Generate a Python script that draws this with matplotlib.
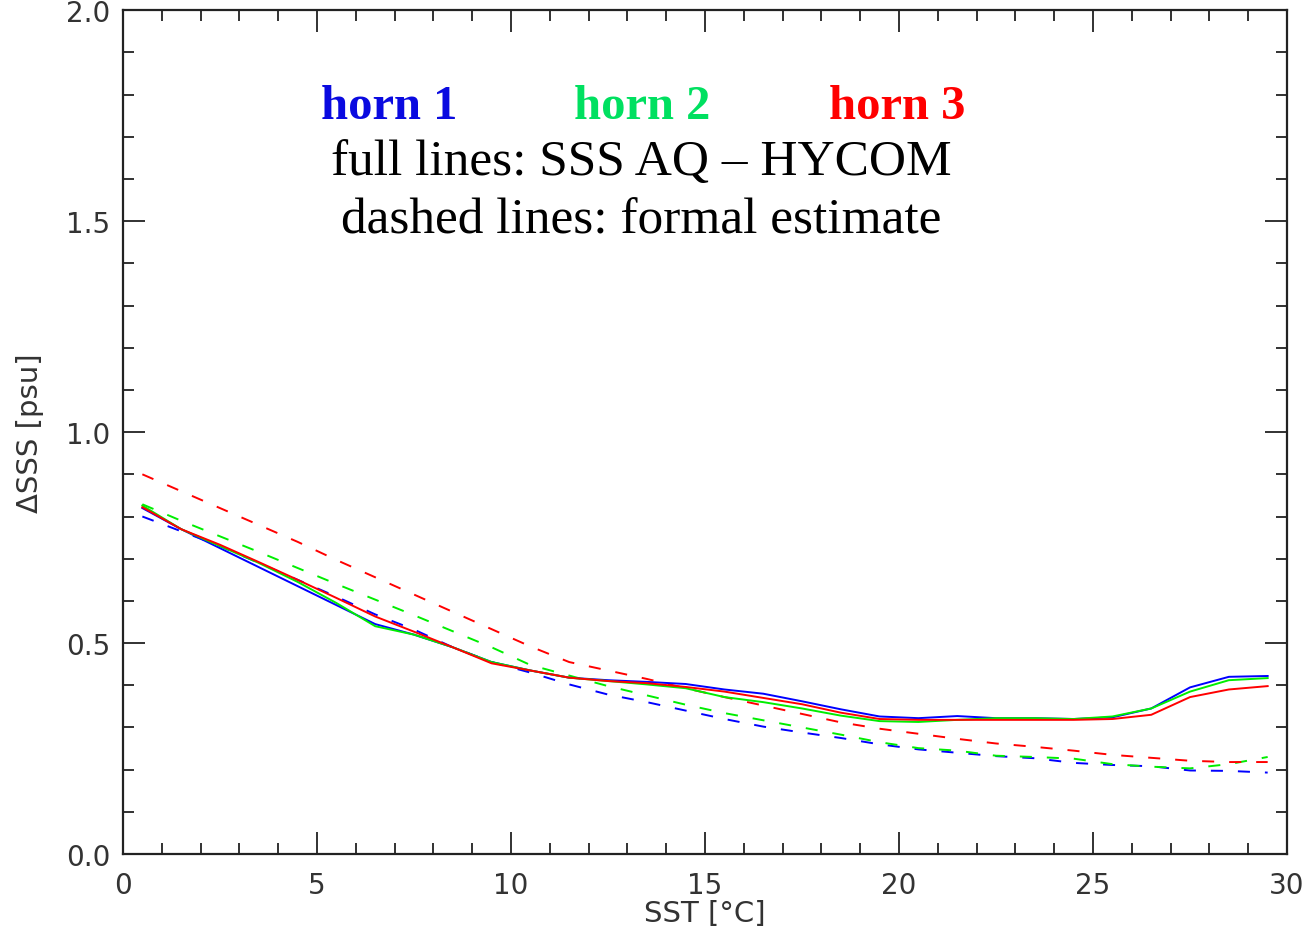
import matplotlib
matplotlib.use("Agg")
import matplotlib.pyplot as plt
from matplotlib.ticker import MultipleLocator, FormatStrFormatter

sst = [0.5, 1.5, 2.5, 3.5, 4.5, 5.5, 6.5, 7.5, 8.5, 9.5,
       10.5, 11.5, 12.5, 13.5, 14.5, 15.5, 16.5, 17.5, 18.5, 19.5,
       20.5, 21.5, 22.5, 23.5, 24.5, 25.5, 26.5, 27.5, 28.5, 29.5]

horn1_full = [0.82, 0.77, 0.725, 0.68, 0.635, 0.59, 0.545, 0.52, 0.49, 0.455,
              0.435, 0.418, 0.412, 0.408, 0.403, 0.39, 0.38, 0.362, 0.343, 0.326,
              0.322, 0.327, 0.322, 0.322, 0.32, 0.324, 0.345, 0.395, 0.42, 0.422]
horn2_full = [0.826, 0.77, 0.73, 0.69, 0.645, 0.595, 0.54, 0.52, 0.49, 0.455,
              0.435, 0.418, 0.41, 0.402, 0.393, 0.372, 0.36, 0.345, 0.328, 0.315,
              0.313, 0.318, 0.322, 0.322, 0.32, 0.326, 0.345, 0.385, 0.412, 0.417]
horn3_full = [0.822, 0.77, 0.733, 0.692, 0.65, 0.607, 0.563, 0.527, 0.49, 0.452,
              0.435, 0.418, 0.41, 0.405, 0.396, 0.385, 0.37, 0.355, 0.335, 0.32,
              0.318, 0.318, 0.318, 0.318, 0.318, 0.32, 0.33, 0.372, 0.39, 0.398]

horn1_formal = [0.80, 0.765, 0.73, 0.69, 0.65, 0.61, 0.568, 0.532, 0.49, 0.455,
                0.43, 0.402, 0.378, 0.36, 0.34, 0.32, 0.302, 0.288, 0.275, 0.26,
                0.248, 0.24, 0.232, 0.227, 0.216, 0.211, 0.208, 0.198, 0.197, 0.193]
horn2_formal = [0.829, 0.79, 0.753, 0.716, 0.678, 0.64, 0.603, 0.566, 0.528, 0.49,
                0.448, 0.423, 0.398, 0.376, 0.354, 0.334, 0.317, 0.3, 0.283, 0.265,
                0.251, 0.245, 0.233, 0.23, 0.226, 0.213, 0.207, 0.203, 0.213, 0.23]
horn3_formal = [0.90, 0.86, 0.82, 0.78, 0.74, 0.697, 0.656, 0.615, 0.574, 0.533,
                0.492, 0.455, 0.435, 0.415, 0.393, 0.372, 0.352, 0.332, 0.312, 0.297,
                0.285, 0.273, 0.262, 0.254, 0.245, 0.235, 0.228, 0.221, 0.218, 0.218]

horn_labels = ["horn 1", "horn 2", "horn 3"]
line_colors = ["#0000ff", "#00ee00", "#ff0000"]
text_colors = ["#0a0ae0", "#00e060", "#ff0000"]
note_lines = ["full lines: SSS AQ \u2013 HYCOM", "dashed lines: formal estimate"]

fig = plt.figure(figsize=(13.08, 9.37), dpi=100)
ax = fig.add_axes([0.094, 0.0875, 0.89, 0.9005])

fulls = [horn1_full, horn2_full, horn3_full]
formals = [horn1_formal, horn2_formal, horn3_formal]
for d, c in zip(formals, line_colors):
    ax.plot(sst, d, color=c, lw=1.4, linestyle=(0, (6.2, 7.7)))
for f, c in zip(fulls, line_colors):
    ax.plot(sst, f, color=c, lw=1.4)

ax.set_xlim(0, 30)
ax.set_ylim(0, 2.0)
ax.xaxis.set_major_locator(MultipleLocator(5))
ax.xaxis.set_minor_locator(MultipleLocator(1))
ax.yaxis.set_major_locator(MultipleLocator(0.5))
ax.yaxis.set_minor_locator(MultipleLocator(0.1))
ax.yaxis.set_major_formatter(FormatStrFormatter('%.1f'))
ax.tick_params(which='both', direction='in', top=True, right=True,
               color='#222222', labelcolor='#333333', labelsize=20)
ax.tick_params(axis='y', which='major', length=16, width=1.3, pad=9)
ax.tick_params(axis='x', which='major', length=16, width=1.3, pad=12)
ax.tick_params(which='minor', length=8, width=1.3)
for s in ax.spines.values():
    s.set_linewidth(1.6)
    s.set_color('#222222')

ax.set_xlabel("SST [\u00b0C]", fontsize=21, color='#333333', labelpad=0)
ax.set_ylabel("\u0394SSS [psu]", fontsize=21, color='#333333', labelpad=16)

serif = ['Liberation Serif', 'DejaVu Serif']
xs = [0.229, 0.446, 0.665]
for x, lab, c in zip(xs, horn_labels, text_colors):
    ax.text(x, 0.887, lab, transform=ax.transAxes, ha='center', va='center',
            fontsize=35, fontweight='bold', color=c, family=serif)
ax.text(0.445, 0.820, note_lines[0], transform=ax.transAxes, ha='center', va='center',
        fontsize=37, color='black', family=serif)
ax.text(0.445, 0.751, note_lines[1], transform=ax.transAxes, ha='center', va='center',
        fontsize=37, color='black', family=serif)

fig.savefig("out.png", dpi=100)
